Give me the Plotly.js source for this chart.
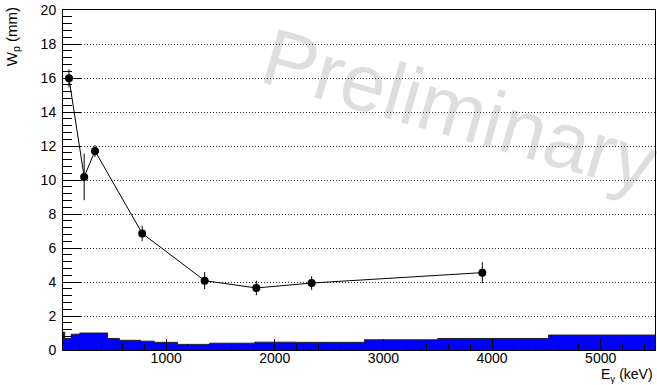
<!DOCTYPE html>
<html>
<head>
<meta charset="utf-8">
<script src="https://cdn.plot.ly/plotly-3.0.1.min.js"></script>
<style>html,body{margin:0;padding:0;background:#fff;}#chart{width:657px;height:385px;}</style>
</head>
<body>
<div id="chart"></div>
<script>
// Measured points: gamma energy (keV), width Wp (mm) and its error
const energies = [105, 245, 344, 779, 1354, 1830, 2339, 3910];
const widths   = [15.98, 10.18, 11.71, 6.86, 4.08, 3.65, 3.94, 4.55];
const widthErr = [0.53, 1.37, 0.35, 0.45, 0.5, 0.43, 0.4, 0.62];

// Blue background histogram: bin edges (keV) and bin contents
const histEdges   = [50, 66, 125, 205, 460, 570, 765, 890, 1105, 1400, 1815, 2200, 2825, 3500, 4520, 5500];
const histHeights = [1.05, 0.68, 0.93, 1.0, 0.68, 0.57, 0.52, 0.45, 0.33, 0.40, 0.46, 0.45, 0.60, 0.68, 0.88];

const xTickVals = [1000, 2000, 3000, 4000, 5000];
const yTickVals = [0, 2, 4, 6, 8, 10, 12, 14, 16, 18, 20];

const font = "Liberation Sans, Arial, Helvetica, sans-serif";

const histTrace = {
  type: 'scatter', mode: 'lines',
  x: histEdges,
  y: histHeights.concat([histHeights[histHeights.length - 1]]),
  line: {shape: 'hv', color: '#222', width: 1},
  fill: 'tozeroy', fillcolor: '#0000ff',
  hoverinfo: 'skip', showlegend: false
};

const dataTrace = {
  type: 'scatter', mode: 'lines+markers',
  x: energies, y: widths,
  error_y: {type: 'data', array: widthErr, visible: true, color: '#000', thickness: 1, width: 0},
  line: {color: '#000', width: 1},
  marker: {color: '#000', size: 8, symbol: 'circle'},
  showlegend: false
};

const layout = {
  width: 657, height: 385,
  margin: {l: 63, r: 2, t: 10, b: 35, pad: 0},
  paper_bgcolor: '#fff', plot_bgcolor: '#fff',
  font: {family: font, size: 14, color: '#000'},
  showlegend: false,
  xaxis: {
    range: [50, 5500], tickvals: xTickVals, ticktext: xTickVals.map(String),
    ticks: 'inside', ticklen: 11, tickcolor: '#000', tickwidth: 1,
    minor: {dtick: 200, tick0: 0, ticks: 'inside', ticklen: 6, tickcolor: '#000', tickwidth: 1, showgrid: false},
    showgrid: false, zeroline: false,
    showline: true, linecolor: '#000', linewidth: 1, mirror: true,
    tickfont: {family: font, size: 14, color: '#000'},
    ticklabelstandoff: -5
  },
  yaxis: {
    range: [0, 20], tickvals: yTickVals, ticktext: yTickVals.map(String),
    ticks: 'inside', ticklen: 18, tickcolor: '#000', tickwidth: 1,
    minor: {dtick: 0.4, tick0: 0, ticks: 'inside', ticklen: 9, tickcolor: '#000', tickwidth: 1, showgrid: false},
    showgrid: true, gridcolor: '#333', gridwidth: 1, griddash: '1px,2px',
    zeroline: false,
    showline: true, linecolor: '#000', linewidth: 1, mirror: true,
    tickfont: {family: font, size: 14, color: '#000'},
    ticklabelstandoff: 3
  },
  annotations: [
    {text: 'Preliminary', xref: 'paper', yref: 'paper', x: 0.67, y: 0.705,
     xanchor: 'center', yanchor: 'middle', textangle: 16, showarrow: false,
     font: {family: font, size: 81, color: 'rgba(0,0,0,0.13)'}},
    {text: 'W<sub>p</sub> (mm)', xref: 'paper', yref: 'paper', x: -0.086, y: 0.92,
     xanchor: 'center', yanchor: 'middle', textangle: -90, showarrow: false,
     font: {family: font, size: 15, color: '#000'}},
    {text: 'E<sub>γ</sub> (keV)', xref: 'paper', yref: 'paper', x: 1.0, y: -0.0735,
     xanchor: 'right', yanchor: 'middle', showarrow: false,
     font: {family: font, size: 14, color: '#000'}}
  ]
};

Plotly.newPlot('chart', [histTrace, dataTrace], layout, {staticPlot: true, displayModeBar: false});
</script>
</body>
</html>
